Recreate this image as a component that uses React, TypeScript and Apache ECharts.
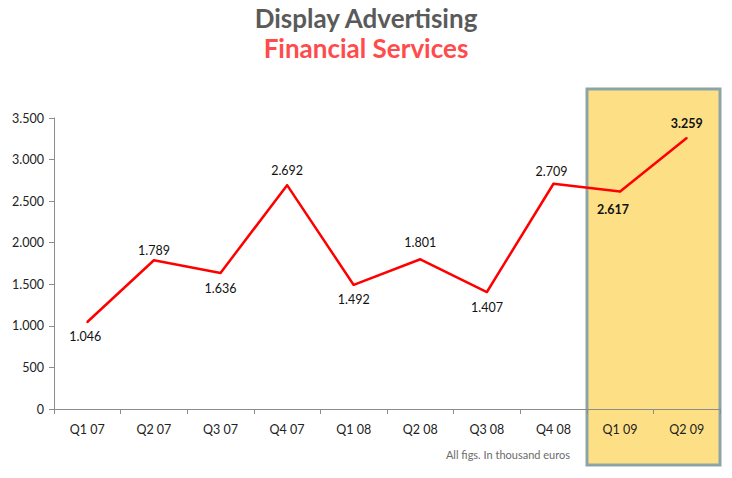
import React, { useEffect, useRef } from "react";
import * as echarts from "echarts";

const categories = ["Q1 07", "Q2 07", "Q3 07", "Q4 07", "Q1 08", "Q2 08", "Q3 08", "Q4 08", "Q1 09", "Q2 09"];
const values = [1046, 1789, 1636, 2692, 1492, 1801, 1407, 2709, 2617, 3259];
const labelPositions = ["bottom", "top", "bottom", "top", "bottom", "top", "bottom", "top", "bottom", "top"];
const labelDistances = [7, 2, 8, 7, 7, 9, 8, 5, 11, 7];
const labelShiftX = [-2, 0, 0, 0, 0, 0, 0, -2, -7, 0];
const boldFlags = [false, false, false, false, false, false, false, false, true, true];
const yTicks = [0, 500, 1000, 1500, 2000, 2500, 3000, 3500];

const FONT = "Lato, 'DejaVu Sans', sans-serif";

function fmt(v: number): string {
  return String(Math.round(v)).replace(/\B(?=(\d{3})+(?!\d))/g, ".");
}

export default function App() {
  const ref = useRef<HTMLDivElement>(null);
  useEffect(() => {
    if (!ref.current) return;
    const chart = echarts.init(ref.current, undefined, { renderer: "svg" });
    chart.setOption({
      animation: false,
      backgroundColor: "#ffffff",
      title: [
        {
          text: "Display Advertising",
          left: "center",
          top: 0,
          textStyle: { color: "#5a5a5a", fontSize: 26, fontWeight: "bold", fontFamily: FONT },
        },
        {
          text: "Financial Services",
          left: "center",
          top: 30,
          textStyle: { color: "#ff4b4b", fontSize: 26, fontWeight: "bold", fontFamily: FONT },
        },
      ],
      graphic: [
        {
          type: "rect",
          z: -10,
          zlevel: 0,
          shape: { x: 587, y: 89, width: 133, height: 376 },
          style: { fill: "#fde086", stroke: "#8da4a7", lineWidth: 3 },
          silent: true,
        },
        {
          type: "text",
          right: 162,
          top: 449,
          style: { text: "All figs. In thousand euros", fill: "#6b6b6b", fontSize: 11, fontFamily: FONT },
        },
      ],
      grid: { left: 54, right: 12, top: 118, bottom: 69 },
      xAxis: {
        type: "category",
        data: categories,
        boundaryGap: true,
        axisLine: { lineStyle: { color: "#8c8c8c", width: 1 } },
        axisTick: { show: true, length: 5, lineStyle: { color: "#8c8c8c" } },
        axisLabel: { color: "#222", fontSize: 12.5, fontFamily: FONT, margin: 14 },
        splitLine: { show: false },
      },
      yAxis: {
        type: "value",
        min: 0,
        max: 3500,
        interval: 500,
        axisLine: { show: true, lineStyle: { color: "#8c8c8c", width: 1 } },
        axisTick: { show: true, length: 5, lineStyle: { color: "#8c8c8c" } },
        axisLabel: {
          color: "#222",
          fontSize: 12.5,
          fontFamily: FONT,
          margin: 10,
          formatter: (v: number) => (yTicks.includes(v) ? fmt(v) : ""),
        },
        splitLine: { show: false },
      },
      series: [
        {
          type: "line",
          z: 5,
          data: values.map((v, i) => ({
            value: v,
            label: {
              position: labelPositions[i],
              fontWeight: boldFlags[i] ? "bold" : "normal",
              distance: labelDistances[i],
              offset: [labelShiftX[i], 0],
            },
          })),
          symbol: "circle",
          symbolSize: 2,
          itemStyle: { color: "#ff0000" },
          lineStyle: { color: "#ff0000", width: 2.5 },
          label: {
            show: true,
            color: "#111",
            fontSize: 12.5,
            fontFamily: FONT,
            formatter: (p: any) => fmt(p.value),
          },
        },
      ],
    });
    return () => chart.dispose();
  }, []);
  return <div ref={ref} style={{ position: "fixed", left: 0, top: 0, width: 732, height: 478 }} />;
}
